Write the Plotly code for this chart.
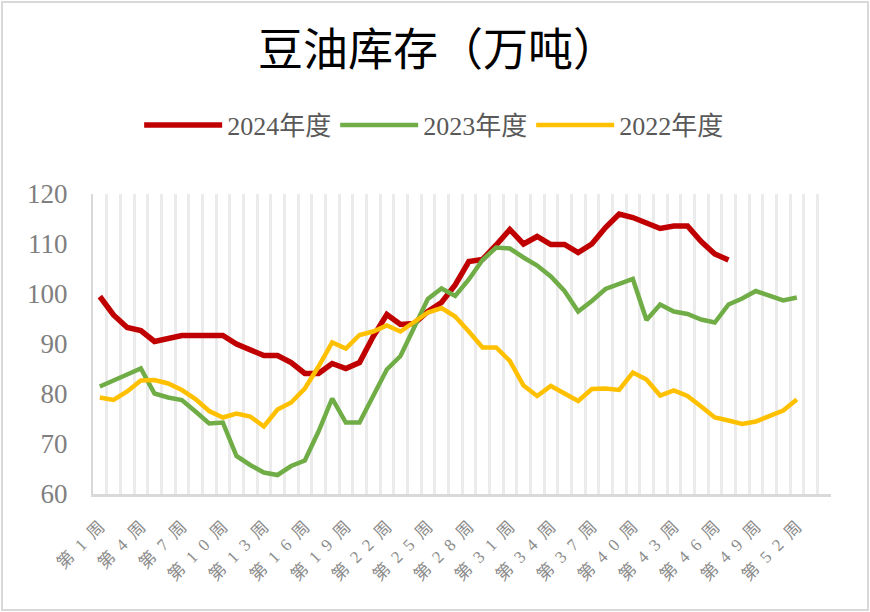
import plotly.graph_objects as go

weeks = [f"第{i}周" for i in range(1, 55)]

y2024 = [99.5, 95.8, 93.3, 92.7, 90.5, 91.1, 91.7, 91.7, 91.6, 91.7,
         90.0, 88.9, 87.7, 87.7, 86.3, 84.1, 84.1, 86.1, 85.1, 86.3,
         91.5, 95.9, 93.9, 94.1, 96.5, 98.3, 101.8, 106.5, 106.9, 109.8,
         112.9, 110.0, 111.5, 109.9, 109.9, 108.3, 110.0, 113.3, 116.0, 115.3,
         114.3, 113.1, 113.6, 113.6, 110.5, 108.0, 106.8]

y2023 = [81.5, 82.6, 83.9, 85.1, 80.1, 79.3, 78.8, 76.5, 74.1, 74.3,
         67.6, 65.8, 64.3, 63.8, 65.6, 66.7, 72.5, 79.1, 74.3, 74.3,
         79.7, 84.9, 87.6, 93.5, 99.0, 101.1, 99.6, 102.9, 106.8, 109.3,
         109.1, 107.3, 105.7, 103.5, 100.6, 96.5, 98.6, 101.0, 102.0, 103.0,
         94.8, 97.9, 96.5, 96.0, 94.9, 94.3, 97.9, 99.1, 100.6, 99.6,
         98.7, 99.3]

y2022 = [79.3, 78.8, 80.5, 82.7, 82.8, 82.1, 80.8, 79.0, 76.6, 75.3,
         76.1, 75.5, 73.5, 76.9, 78.3, 81.1, 85.5, 90.3, 89.1, 91.8,
         92.5, 93.7, 92.5, 94.5, 96.3, 97.2, 95.5, 92.5, 89.3, 89.3,
         86.6, 81.7, 79.6, 81.6, 80.1, 78.6, 81.0, 81.1, 80.8, 84.3,
         82.9, 79.7, 80.7, 79.6, 77.5, 75.3, 74.7, 74.0, 74.5, 75.5,
         76.7, 78.9]

series = [("2024年度", y2024, "#C00000", 5.5),
          ("2023年度", y2023, "#70AD47", 4.5),
          ("2022年度", y2022, "#FFC000", 4.5)]

y_ticks = [60, 70, 80, 90, 100, 110, 120]


def spaced(label):
    return "\u2002".join(label)


tick_text = [spaced(w) if i % 3 == 0 else "" for i, w in enumerate(weeks)]

fig = go.Figure()
for name, vals, color, width in series:
    fig.add_trace(go.Scatter(
        x=weeks[:len(vals)], y=vals, name=name, mode="lines",
        line=dict(color=color, width=width, shape="linear"),
    ))

W, H = 870, 612
ml, mr, mt, mb = 93, 39, 194, 118
pw, ph = W - ml - mr, H - mt - mb

fig.update_layout(
    width=W, height=H,
    margin=dict(l=ml, r=mr, t=mt, b=mb),
    paper_bgcolor="white", plot_bgcolor="white",
    font=dict(family="Liberation Serif, Noto Sans CJK SC", color="#7f7f7f"),
    title=dict(text="豆油库存（万吨）", x=438 / W, xanchor="center",
               y=1 - 50 / H, yanchor="middle",
               font=dict(family="Noto Sans CJK SC", size=45, color="#000000")),
    legend=dict(orientation="h", x=401 / W, xanchor="center",
                y=1 - 125 / H, yref="container", yanchor="middle",
                font=dict(size=26, color="#595959"),
                itemwidth=78, entrywidth=103),
    showlegend=True,
    xaxis=dict(
        type="category", categoryorder="array", categoryarray=weeks,
        range=[-0.5, len(weeks) - 0.5],
        tickmode="array", tickvals=weeks, ticktext=tick_text,
        tickson="boundaries", ticks="",
        showgrid=True, gridcolor="#ebebeb", gridwidth=2.5,
        showline=True, linecolor="#d9d9d9", linewidth=3,
        tickangle=-45, tickfont=dict(size=17, color="#8c8c8c"),
        ticklabelstandoff=13,
        fixedrange=True,
    ),
    yaxis=dict(
        range=[60, 120], tickmode="array", tickvals=y_ticks,
        showgrid=False, zeroline=False,
        showline=True, linecolor="#d9d9d9", linewidth=2,
        tickfont=dict(size=27, color="#7f7f7f"),
        ticks="", ticklabelstandoff=18,
        fixedrange=True,
    ),
    shapes=[dict(type="rect", xref="paper", yref="paper",
                 x0=(2 - ml) / pw, x1=(W - 2 - ml) / pw,
                 y0=(2 - mb) / ph, y1=(H - 2 - mb) / ph,
                 line=dict(color="#d9d9d9", width=2), fillcolor="rgba(0,0,0,0)",
                 layer="below")],
)

fig.write_html("out.html", config={"displayModeBar": False},
               post_script="document.body.style.margin='0px';document.body.style.overflow='hidden';")
